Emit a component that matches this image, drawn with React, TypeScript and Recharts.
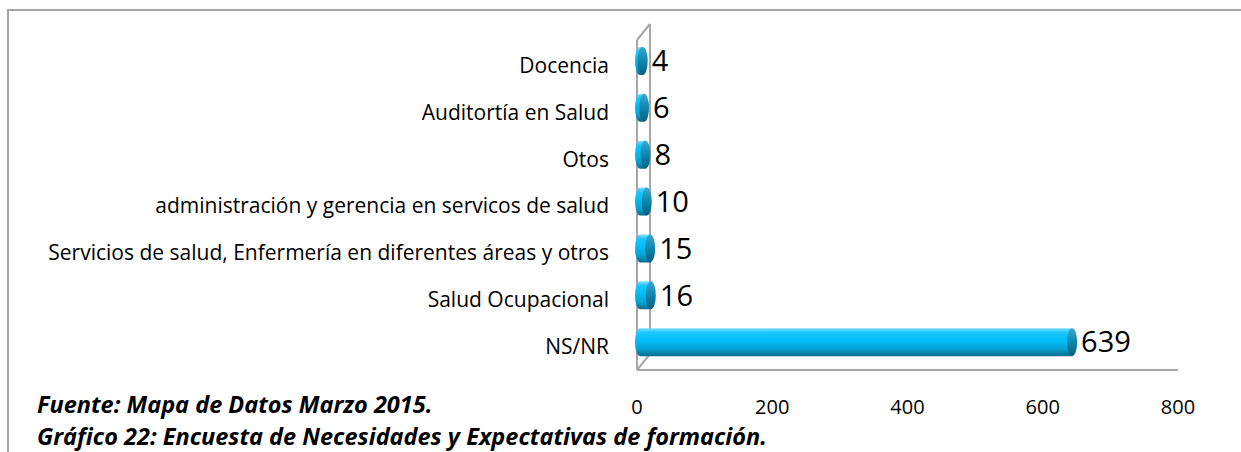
import { BarChart, Bar, XAxis, YAxis, LabelList } from "recharts";

const categories = [
  "Docencia",
  "Auditortía en Salud",
  "Otos",
  "administración y gerencia en servicos de salud",
  "Servicios de salud, Enfermería en diferentes áreas y otros",
  "Salud Ocupacional",
  "NS/NR",
];
const counts = [4, 6, 8, 10, 15, 16, 639];
const xTicks = [0, 200, 400, 600, 800];

const source = "Fuente: Mapa de Datos Marzo 2015.";
const caption = "Gráfico 22: Encuesta de Necesidades y Expectativas de formación.";

const data = categories.map((name, i) => ({ name, value: counts[i] }));

const FONT = "'Open Sans', 'Noto Sans', sans-serif";
const GRID = "#A6A6A6";

// 3D cylinder bar: rounded back end, gradient body, darker cap at the tip
function Cylinder(props: any) {
  const { x, y, width, height } = props;
  const depth = 3;
  const rx = 5;
  const ry = height / 2;
  const x0 = x + depth;
  const x1 = x0 + Math.max(width, 0);
  const cy = y + ry;
  const body = `M${x0},${y} L${x1},${y} L${x1},${y + height} L${x0},${y + height} A${rx},${ry} 0 0 1 ${x0},${y} Z`;
  return (
    <g>
      <path d={body} fill="url(#cylBody)" />
      <ellipse cx={x1} cy={cy} rx={rx} ry={ry} fill="url(#cylCap)" />
    </g>
  );
}

function Frame3D() {
  // back wall and floor of the Excel 3D plot
  return (
    <g stroke={GRID} strokeWidth={2} fill="none">
      <line x1={637} y1={40} x2={637} y2={370} />
      <line x1={650} y1={24} x2={650} y2={354} />
      <line x1={637} y1={40} x2={650} y2={24} />
      <line x1={637} y1={370} x2={650} y2={354} />
      <line x1={637} y1={370} x2={1178} y2={370} />
    </g>
  );
}

export default function App() {
  return (
    <div
      style={{
        position: "absolute",
        left: 0,
        top: 0,
        width: 1241,
        height: 452,
        background: "#fff",
        fontFamily: FONT,
        overflow: "hidden",
      }}
    >
      <div
        style={{
          position: "absolute",
          left: 7,
          top: 9,
          width: 1300,
          height: 500,
          borderTop: `2px solid ${GRID}`,
          borderLeft: `2px solid ${GRID}`,
        }}
      />
      <BarChart
        width={1241}
        height={452}
        data={data}
        layout="vertical"
        margin={{ top: 38, right: 63, bottom: 0, left: 0 }}
        barCategoryGap={9}
        style={{ position: "absolute", left: 0, top: 0 }}
      >
        <defs>
          <linearGradient id="cylBody" x1="0" y1="0" x2="0" y2="1">
            <stop offset="0%" stopColor="#7FDFFF" />
            <stop offset="15%" stopColor="#1CC6FF" />
            <stop offset="45%" stopColor="#00BDF7" />
            <stop offset="75%" stopColor="#06A2D2" />
            <stop offset="100%" stopColor="#0A6C8C" />
          </linearGradient>
          <linearGradient id="cylCap" x1="0" y1="0" x2="0" y2="1">
            <stop offset="0%" stopColor="#3AA9CC" />
            <stop offset="50%" stopColor="#0E86AE" />
            <stop offset="100%" stopColor="#0A5F7C" />
          </linearGradient>
        </defs>
        <Frame3D />
        <XAxis
          type="number"
          domain={[0, 800]}
          ticks={xTicks}
          height={86}
          axisLine={false}
          tickLine={false}
          tickMargin={28}
          tick={{ fill: "#000", fontSize: 20, fontFamily: FONT }}
          interval={0}
        />
        <YAxis
          type="category"
          dataKey="name"
          width={637}
          axisLine={false}
          tickLine={false}
          tickMargin={22}
          interval={0}
          tick={{ fill: "#000", fontSize: 21, fontFamily: FONT, dy: 4 }}
        />
        <Bar
          dataKey="value"
          shape={<Cylinder />}
          barSize={28}
          isAnimationActive={false}
        >
          <LabelList
            dataKey="value"
            position="right"
            offset={12}
            fill="#000"
            fontSize={29}
            fontFamily={FONT}
          />
        </Bar>
      </BarChart>
      <div
        style={{
          position: "absolute",
          left: 37,
          top: 388,
          fontSize: 23.5,
          fontWeight: 700,
          fontStyle: "italic",
          color: "#000",
          lineHeight: "32px",
          whiteSpace: "nowrap",
        }}
      >
        <div>{source}</div>
        <div>{caption}</div>
      </div>
    </div>
  );
}
